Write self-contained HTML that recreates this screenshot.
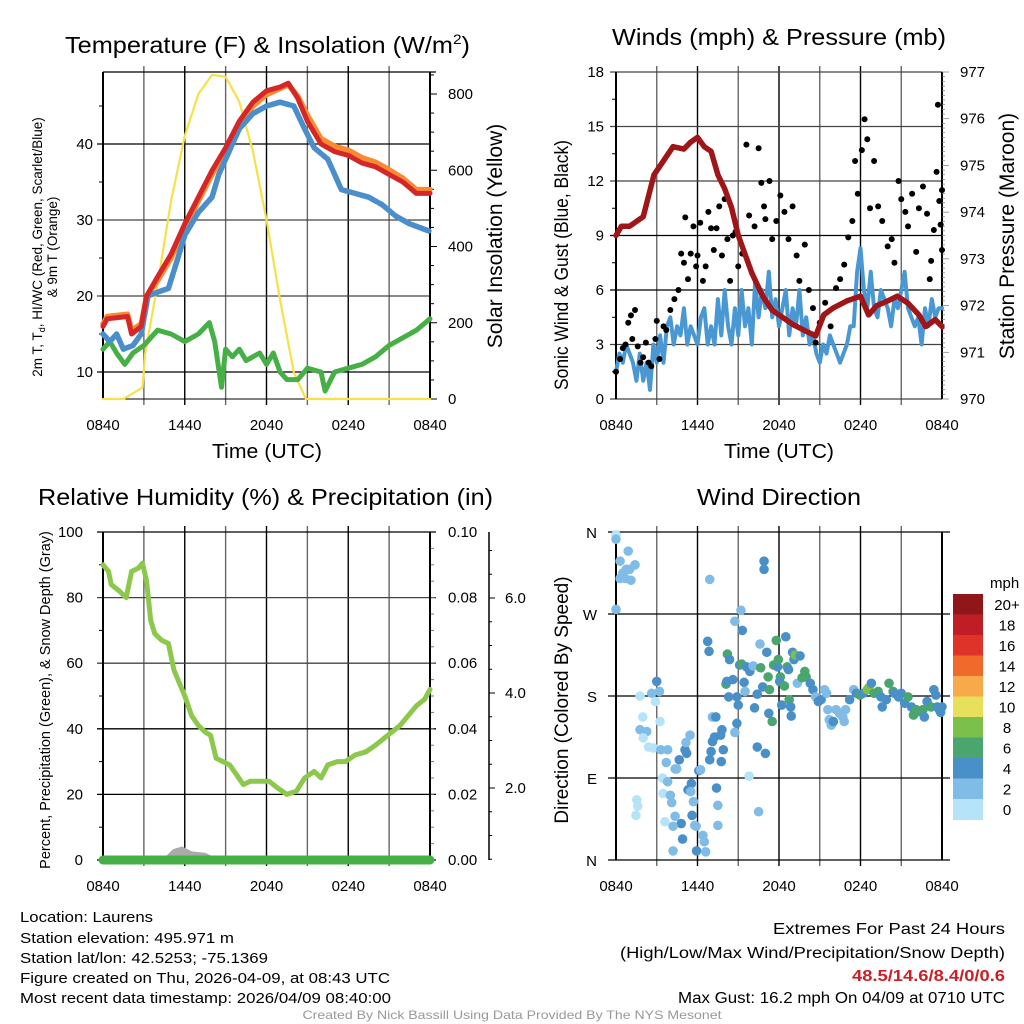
<!DOCTYPE html>
<html><head><meta charset="utf-8"><style>
html,body{margin:0;padding:0;background:#fff;}
svg{display:block;font-family:"Liberation Sans",sans-serif;}
</style></head><body>
<svg id="chart" width="1024" height="1024" viewBox="0 0 1024 1024" xmlns="http://www.w3.org/2000/svg">
<g id="texts" fill="#000">
<text x="65" y="53" font-size="23" textLength="405" lengthAdjust="spacingAndGlyphs">Temperature (F) &amp; Insolation (W/m<tspan dy="-9" font-size="14">2</tspan><tspan dy="9">)</tspan></text>
<text x="612" y="45" font-size="23" textLength="334" lengthAdjust="spacingAndGlyphs">Winds (mph) &amp; Pressure (mb)</text>
<text x="38" y="505" font-size="23" textLength="455" lengthAdjust="spacingAndGlyphs">Relative Humidity (%) &amp; Precipitation (in)</text>
<text x="697" y="505" font-size="23" textLength="164" lengthAdjust="spacingAndGlyphs">Wind Direction</text>
<text x="212" y="458" font-size="20" textLength="110" lengthAdjust="spacingAndGlyphs">Time (UTC)</text>
<text x="724" y="458" font-size="20" textLength="110" lengthAdjust="spacingAndGlyphs">Time (UTC)</text>
<text transform="translate(42,247) rotate(-90)" font-size="13.5" text-anchor="middle">2m T, T<tspan font-size="9" dy="3">d</tspan><tspan dy="-3">, HI/WC (Red, Green, Scarlet/Blue)</tspan></text>
<text transform="translate(57,247) rotate(-90)" font-size="13.5" text-anchor="middle">&amp; 9m T (Orange)</text>
<text transform="translate(502,236) rotate(-90)" font-size="21" text-anchor="middle">Solar Insolation (Yellow)</text>
<text transform="translate(568,265) rotate(-90)" font-size="19" text-anchor="middle" textLength="250" lengthAdjust="spacingAndGlyphs">Sonic Wind &amp; Gust (Blue, Black)</text>
<text transform="translate(1014,236) rotate(-90)" font-size="21" text-anchor="middle">Station Pressure (Maroon)</text>
<text transform="translate(50,700) rotate(-90)" font-size="14.5" text-anchor="middle">Percent, Precipitation (Green), &amp; Snow Depth (Gray)</text>
<text transform="translate(568,700) rotate(-90)" font-size="19" text-anchor="middle">Direction (Colored By Speed)</text>
<g font-size="14.5">
<text x="20" y="922" textLength="133" lengthAdjust="spacingAndGlyphs">Location: Laurens</text>
<text x="20" y="943" textLength="214" lengthAdjust="spacingAndGlyphs">Station elevation: 495.971 m</text>
<text x="20" y="963" textLength="248" lengthAdjust="spacingAndGlyphs">Station lat/lon: 42.5253; -75.1369</text>
<text x="20" y="983" textLength="370" lengthAdjust="spacingAndGlyphs">Figure created on Thu, 2026-04-09, at 08:43 UTC</text>
<text x="20" y="1003" textLength="371" lengthAdjust="spacingAndGlyphs">Most recent data timestamp: 2026/04/09 08:40:00</text>
</g>
<g font-size="15.5" text-anchor="end">
<text x="1005" y="934" textLength="232" lengthAdjust="spacingAndGlyphs">Extremes For Past 24 Hours</text>
<text x="1005" y="958" textLength="385" lengthAdjust="spacingAndGlyphs">(High/Low/Max Wind/Precipitation/Snow Depth)</text>
<text x="1005" y="981" textLength="153" lengthAdjust="spacingAndGlyphs" fill="#cc1f25" font-weight="bold">48.5/14.6/8.4/0/0.6</text>
<text x="1005" y="1003" textLength="327" lengthAdjust="spacingAndGlyphs">Max Gust: 16.2 mph On 04/09 at 0710 UTC</text>
</g>
<text x="512" y="1019" font-size="12" fill="#999" text-anchor="middle" textLength="419" lengthAdjust="spacingAndGlyphs">Created By Nick Bassill Using Data Provided By The NYS Mesonet</text>
</g>
</svg>
<script>
// ---------- DATA ----------
const timeTickLabels = ["0840","1440","2040","0240","0840"];
const tempTicks = [10,20,30,40];
const solarTicks = [0,200,400,600,800];
const windTicks = [0,3,6,9,12,15,18];
const pressureTicks = [970,971,972,973,974,975,976,977];
const rhTicks = [0,20,40,60,80,100];
const precipTickLabels = ["0.00","0.02","0.04","0.06","0.08","0.10"];
const snowTicks = [2,4,6];
const dirTickLabels = ["N","E","S","W","N"];
const speedBinLabels = ["0","2","4","6","8","10","12","14","16","18","20+"];
const speedBinColors = ["#b5e3f7","#80bce6","#4a90c8","#4aa56e","#7cc04c","#e8e05a","#f6aa4a","#f06a2c","#df3329","#bf1e26","#8f1619"];

const tempRed = [[0,16],[0.3,17],[1.8,17.3],[2.1,15],[2.8,16],[3.2,20],[4,22.5],[5,25.5],[6,29.5],[7,33],[8,36.5],[9,39.5],[10,43],[11,45.5],[12,47],[13,47.5],[13.6,48],[14.3,46],[15,43],[16,40],[17,39],[18,38.5],[19,37.5],[20,37],[21,36],[22,35],[23,33.5],[24,33.5]];
const tempOrange = [[0,16.3],[0.3,17.3],[1.8,17.6],[2.1,15.5],[2.8,16.3],[3.2,20],[4,22],[5,25],[6,29],[7,32.5],[8,36],[9,39],[10,42.5],[11,45],[12,46.5],[13,47.3],[13.6,47.8],[14.3,46.3],[15,43.8],[16,40.7],[17,39.7],[18,39.2],[19,38.2],[20,37.6],[21,36.6],[22,35.5],[23,34],[24,34]];
const tempBlue = [[0,15],[0.5,14],[1,15],[1.5,13],[2.2,13.5],[2.8,15],[3.3,20],[4,20.5],[4.8,21],[5.5,25],[6,28],[7,31],[8,33],[8.5,36],[9,38],[10,42],[11,44],[12,45],[13,45.5],[14,45],[14.8,42],[15.5,39.5],[16.5,38],[17.5,34],[18.5,33.5],[19.5,33],[20.5,32],[21.5,30.5],[22.5,29.5],[24,28.5]];
const tempGreen = [[0,13],[0.5,14],[1,12.5],[1.6,11],[2.2,12.5],[3,13.5],[3.5,14.5],[4,15.5],[5,15],[6,14],[7,15],[7.8,16.5],[8.2,14],[8.7,8],[9,13],[9.5,12],[10,13],[10.5,11.5],[11.5,12.5],[12,11],[12.5,12.5],[13,10],[13.5,9],[14.3,9],[15,10.5],[16,10],[16.3,7.5],[17,10],[18,10.5],[19,11],[20,12],[21,13.5],[22,14.5],[23,15.5],[24,17]];
const solar = [[0,0],[1.5,0],[2.9,30],[3.1,120],[4,300],[5,520],[6,690],[7,800],[8,850],[9,845],[10,780],[11,650],[12,470],[13,260],[14,70],[14.9,0],[24,0]];

const pressure = [[0,973.5],[0.4,973.7],[1,973.7],[1.5,973.8],[2,973.9],[2.8,974.8],[3.5,975.1],[4.2,975.4],[5,975.35],[5.5,975.5],[6,975.6],[6.5,975.4],[7,975.3],[7.5,974.8],[8,974.5],[8.5,974.1],[9,973.5],[9.5,973.1],[10,972.7],[10.8,972.2],[11.5,971.9],[12,971.8],[13,971.6],[14,971.45],[14.7,971.35],[15.3,971.8],[16,971.95],[17,972.1],[18,972.2],[18.6,971.8],[19.2,972.0],[20,972.1],[20.7,972.2],[21.5,972.05],[22.3,971.8],[22.8,971.55],[23.5,971.7],[24,971.55]];
const windSpeed = [1.5,2.5,2,3,2.5,2,1,2.5,1,2,0.5,3,
2,3.5,2,4,4.5,3,4,3.5,5,3,4,3.5,
3,4.5,5,3,4,3,5.5,3.5,6,4,3,5,
3.5,6,4,5,3,6.5,4.5,6,5,7,4.5,5.5,
4,5,6,3.5,5,4,6,3.5,4.5,3,3.5,2.5,
2,3,2.5,3.5,3,2.5,2,2.5,3,4,4,7,
8.3,6,5,7,5,4.5,6,5.5,5,4,5.5,5,
6,7,5,4.5,4,4.5,3,5,4,5.5,4.5,5,5];
const gusts = [[0,1.5],[0.3,2.2],[0.5,2.8],[0.7,3.0],[0.9,4.2],[1.1,4.6],[1.2,3.3],[1.4,4.9],[1.6,2.9],[1.8,2.0],[2.0,2.3],[2.2,3.1],[2.4,2.0],[2.6,1.8],[3.0,4.3],[2.9,3.3],[3.2,2.2],[3.5,4.0],[3.7,3.8],[4.0,4.9],[4.3,5.5],[4.6,6.0],[4.8,8.0],[5.0,7.5],[5.1,10.0],[5.3,6.6],[5.5,8.0],[5.7,9.5],[5.9,7.3],[6.0,7.9],[6.2,9.7],[6.4,6.5],[6.6,7.3],[6.8,10.3],[7.0,9.4],[7.2,8.2],[7.4,9.4],[7.6,10.6],[7.8,7.9],[8.0,11.0],[8.2,8.8],[8.4,6.5],[8.6,9.0],[8.8,9.2],[9.0,7.3],[9.3,8.0],[9.6,14.0],[9.8,10.1],[10.2,9.5],[10.5,13.8],[10.7,11.9],[10.9,10.6],[11.0,9.9],[11.3,12.0],[11.5,8.8],[11.8,9.8],[12.1,11.2],[12.4,10.3],[12.7,8.8],[13.0,10.6],[13.3,7.9],[13.5,6.5],[13.9,8.5],[14.2,6.0],[14.5,5.0],[14.7,3.1],[15.0,4.2],[15.4,5.3],[15.8,4.0],[16.2,6.1],[16.5,6.6],[16.8,7.4],[17.1,8.9],[17.4,9.8],[17.6,13.1],[17.8,11.3],[18.1,13.7],[18.3,15.4],[18.5,14.3],[18.7,10.5],[19.0,13.1],[19.3,10.6],[19.6,9.8],[20.0,8.4],[20.3,8.8],[20.5,7.5],[20.8,12.0],[21.0,11.0],[21.3,10.3],[21.5,9.5],[21.8,11.3],[22.1,8.1],[22.3,10.5],[22.6,11.7],[22.9,10.2],[23.1,6.6],[23.2,7.6],[23.4,9.3],[23.6,12.5],[23.7,16.2],[23.8,10.9],[24.0,8.2],[24.0,11.5],[23.9,9.6]];

const rh = [[0,90],[0.4,88],[0.6,84],[1.2,82],[1.7,80],[2.1,88],[2.6,89],[2.9,90.5],[3.2,85],[3.5,73],[3.8,69],[4.3,67],[4.8,66],[5.2,58],[5.6,54],[6.0,50],[6.5,44],[7.0,41],[7.5,39],[7.9,38],[8.3,31],[8.8,30],[9.3,29],[9.8,26],[10.3,23],[10.8,24],[11.5,24],[12.2,24],[12.8,22],[13.5,20],[14.2,21],[14.8,25],[15.5,27],[16.0,25],[16.5,29],[17.2,30],[17.8,30],[18.5,32],[19.3,33],[20.0,35],[20.6,37],[21.2,39],[21.8,41],[22.4,44],[23.0,47],[23.6,49],[24,52]];
const precip = [[0,0],[24,0]];
const snowDepth = [[4.5,0],[5.2,0.2],[5.8,0.25],[6.5,0.15],[7.5,0.12],[8.3,0]];

const windDir = [[0,357,1],[0,352,3],[0.3,328,3],[0.9,339,3],[0.5,315,3],[1.0,319,3],[1.4,324,3],[0.3,309,3],[0.7,309,3],[1.1,307,3],[0.75,319,3],[0,275,3],
[1.77,180,1],[1.97,157,1],[1.77,143,3],[2.26,141,3],[2.0,134,1],[2.4,124,1],[2.75,123,1],[1.53,66,1],[1.6,59,1],[1.47,49,1],[2.63,183,3],[2.9,174,1],[3.0,196,5],[3.2,185,3],[3.24,152,1],[3.3,121,3],[3.8,121,3],[3.7,107,3],[4.47,100,3],[4.35,100,3],[3.43,90,1],[3.8,86,3],[3.47,73,1],[4.0,71,3],[4.1,63,3],[3.6,42,1],[4.35,48,3],[4.8,40,5],[4.2,37,3],[4.9,23,5],[4.2,10,3],[4.66,110,5],[5.08,121,5],[5.2,117,5],[5.15,129,3],[5.45,137,3],[6.1,98,5],[6.23,99,3],[5.55,84,5],[5.3,77,5],[5.5,75,3],[5.7,64,3],[5.6,49,5],[5.9,37,3],[5.8,38,3],[6.4,27,3],[6.5,20,3],[5.93,10,5],[6.6,9,3],
[6.9,110,5],[7.0,119,5],[7.1,130,5],[7.25,135,5],[7.1,157,3],[7.35,157,5],[7.7,137,5],[7.8,143,5],[7.9,121,5],[7.75,108,5],[7.4,79,5],[7.5,60,3],[7.5,38,3],[6.75,240,5],[6.85,229,5],[6.9,308,3],
[8.1,193,7],[8.2,226,7],[8.36,220,5],[8.16,196,5],[8.6,198,5],[8.3,179,5],[8.9,179,5],[9.0,170,5],[8.9,150,5],[8.75,140,3],[8.75,262,3],[9.2,274,3],[9.3,252,5],[9.1,214,5],[9.25,215,7],[9.43,195,5],[9.5,185,3],[9.6,212,5],[9.85,207,5],[10.1,213,3],[10.4,182,5],[10.2,167,5],[10.6,237,3],[10.65,211,7],[10.8,190,5],[11.2,201,7],[11.3,187,7],[11.1,228,5],[11.25,161,5],[11.5,152,7],[10.9,328,5],[10.9,319,5],[10.4,124,5],[11.0,117,5],[9.8,92,1],[10.5,53,3],
[11.6,214,7],[11.8,241,7],[11.9,212,5],[11.95,220,7],[12.1,201,7],[12.05,196,5],[12.2,170,5],[12.4,191,7],[12.5,245,5],[12.6,212,7],[12.7,209,5],[12.75,176,7],[12.86,168,5],[12.9,158,5],[13.0,228,5],[13.1,220,5],[13.2,225,9],[13.55,224,5],[13.35,194,3],[13.7,200,7],[13.9,207,7],[14.0,201,7],[14.3,194,5],[14.5,187,5],[14.7,179,3],[14.9,174,5],
[15.1,176,5],[15.35,187,3],[15.5,183,3],[15.6,165,3],[15.7,154,3],[15.85,148,3],[16.0,152,5],[16.2,165,3],[16.45,161,3],[16.7,157,3],[16.8,152,3],[16.9,165,3],[17.2,176,5],[17.5,187,3],[17.7,183,5],[17.96,181,7],[18.2,183,5],[18.5,187,9],[18.6,189,9],[18.8,194,5],[19.0,183,7],[19.3,185,7],[19.5,179,5],[19.6,168,5],[19.9,176,5],[20.1,194,7],[20.4,185,7],[20.5,183,5],[20.8,179,5],[21.0,183,5],[21.25,172,5],[21.5,179,7],[21.75,168,5],[21.9,159,7],[22.1,165,7],[22.3,163,7],[22.6,165,7],[22.7,157,5],[22.9,174,5],[23.2,168,7],[23.4,187,5],[23.55,181,5],[23.8,165,5],[23.9,162,5],[24,168,5],[23.65,168,5]];

// ---------- RENDER ----------
const NS="http://www.w3.org/2000/svg";
const svg=document.getElementById('chart');
function el(tag,attrs,parent){const e=document.createElementNS(NS,tag);for(const k in attrs)e.setAttribute(k,attrs[k]);(parent||svg).appendChild(e);return e;}
function lin(d0,d1,r0,r1){return v=>r0+(v-d0)*(r1-r0)/(d1-d0);}

const L=103,R=430,L2=616,R2=942;
const xT=lin(0,24,L,R), xW=lin(0,24,L2,R2);
const yTemp=lin(10,40,372,144), ySolar=lin(0,800,399,94);
const yWind=lin(0,18,399,72), yPres=lin(970,977,399,72);
const yRH=lin(0,100,860,532), ySnow=lin(2,4,788,693);
const yDir=lin(0,360,860,532);

function frame(x0,x1,y0,y1,xs,name){
  const g=el('g',{});
  
  
  for(let h=3;h<24;h+=3){const x=xs(h);const l=el('line',{x1:x,x2:x,y1:y0-6,y2:y1+6,stroke:(h%6==0?'#000':'#666'),'stroke-width':1.4},g);
    }
  return g;
}
function hline(y,x0,x1,g,c){const l=el('line',{x1:x0,x2:x1,y1:y,y2:y,stroke:c||'#000','stroke-width':1.3},g);
  }
function xLabels(xs,y,g){timeTickLabels.forEach((s,i)=>{const t=el('text',{x:xs(i*6),y:y,'font-size':15,'text-anchor':'middle'},g);t.textContent=s;
  });}
function path(pts,xs,ys,attrs,name){const d=pts.map((p,i)=>(i?'L':'M')+xs(p[0]).toFixed(1)+','+ys(p[1]).toFixed(1)).join('');
  const p=el('path',Object.assign({d:d,fill:'none','stroke-linejoin':'round','stroke-linecap':'round'},attrs));
  return p;}

// ===== Panel 1 =====
const g1=frame(L,R,72,399,xT,'temperature');
tempTicks.forEach(v=>hline(yTemp(v),L-6,R,g1,v==20||v==30?'#444':'#000'));
hline(72,L,R+6,g1);
el('line',{x1:L,x2:R,y1:399,y2:399,stroke:'#000','stroke-width':1},g1);
el('line',{x1:L,x2:L,y1:72,y2:399,stroke:'#000','stroke-width':2},g1);
el('line',{x1:R,x2:R,y1:72,y2:399,stroke:'#000','stroke-width':2},g1);
tempTicks.forEach(v=>{const t=el('text',{x:L-10,y:yTemp(v)+5,'font-size':15,'text-anchor':'end'},g1);t.textContent=v;
  });
[15,25,35,45].forEach(v=>el('line',{x1:L,x2:L-4,y1:yTemp(v),y2:yTemp(v),stroke:'#000'},g1));
for(let v=0;v<=850;v+=50)el('line',{x1:R,x2:R+(v%200==0?7:4),y1:ySolar(v),y2:ySolar(v),stroke:'#000'},g1);
solarTicks.forEach(v=>{const t=el('text',{x:R+18,y:ySolar(v)+5,'font-size':15},g1);t.textContent=v;
  });
xLabels(xT,430,g1);
path(solar,xT,ySolar,{stroke:'#f7e04a','stroke-width':2.2},'solar-insolation-line');
path(tempGreen,xT,yTemp,{stroke:'#46b046','stroke-width':5},'dewpoint-line');
path(tempOrange,xT,yTemp,{stroke:'#f68b32','stroke-width':5.5},'temp-9m-line');
path(tempBlue,xT,yTemp,{stroke:'#4a8fcb','stroke-width':5.5,'stroke-dasharray':'18 2'},'wind-chill-line');
path(tempRed,xT,yTemp,{stroke:'#d62728','stroke-width':5},'temp-2m-line');

// ===== Panel 2 =====
const g2=frame(L2,R2,72,399,xW,'wind');
windTicks.forEach(v=>hline(yWind(v),L2-6,R2,g2,(v==6||v==9)?'#000':'#444'));
el('line',{x1:L2,x2:L2,y1:72,y2:399,stroke:'#000','stroke-width':2},g2);
el('line',{x1:R2,x2:R2,y1:72,y2:399,stroke:'#000','stroke-width':2},g2);
for(let v=1.5;v<18;v+=3)el('line',{x1:L2,x2:L2-4,y1:yWind(v),y2:yWind(v),stroke:'#000'},g2);
windTicks.forEach(v=>{const t=el('text',{x:L2-12,y:yWind(v)+5,'font-size':15,'text-anchor':'end'},g2);t.textContent=v;
  });
for(let v=970;v<=977.001;v+=0.1)el('line',{x1:R2,x2:R2+(Math.abs(v-Math.round(v))<0.01?7:3),y1:yPres(v),y2:yPres(v),stroke:'#777','stroke-width':0.7},g2);
pressureTicks.forEach(v=>{const t=el('text',{x:R2+18,y:yPres(v)+5,'font-size':15},g2);t.textContent=v;
  });
xLabels(xW,430,g2);
const windPts=windSpeed.map((v,i)=>[i*0.25,v]);
path(windPts,xW,yWind,{stroke:'#4a98d3','stroke-width':4},'sonic-wind-line');
gusts.forEach(p=>{const c=el('circle',{cx:xW(p[0]),cy:yWind(p[1]),r:3,fill:'#000'});
  });
path(pressure,xW,yPres,{stroke:'#a01618','stroke-width':5.5},'pressure-line');

// ===== Panel 3 =====
const g3=frame(L,R,532,860,xT,'humidity');
rhTicks.forEach(v=>hline(yRH(v),L-6,R+6,g3,(v==60||v==80)?'#444':'#000'));
[10,30,50,70,90].forEach(v=>el('line',{x1:L,x2:L-4,y1:yRH(v),y2:yRH(v),stroke:'#000'},g3));
for(let v=5;v<100;v+=5)el('line',{x1:R,x2:R+4,y1:yRH(v),y2:yRH(v),stroke:'#777'},g3);
el('line',{x1:L,x2:L,y1:532,y2:860,stroke:'#000','stroke-width':2},g3);
el('line',{x1:R,x2:R,y1:532,y2:860,stroke:'#000','stroke-width':2},g3);
rhTicks.forEach(v=>{const t=el('text',{x:L-20,y:yRH(v)+5,'font-size':15,'text-anchor':'end'},g3);t.textContent=v;
  });
precipTickLabels.forEach((s,i)=>{const t=el('text',{x:R+18,y:yRH(i*20)+5,'font-size':15},g3);t.textContent=s;
  });
el('line',{x1:489,x2:489,y1:532,y2:860,stroke:'#000','stroke-width':1.5},g3);
for(let v=0.5;v<=7;v+=0.5){const y=ySnow(v);if(y>=532&&y<=860)el('line',{x1:489,x2:489+(v%2==0?6:3),y1:y,y2:y,stroke:'#000'},g3);}
snowTicks.forEach(v=>{const t=el('text',{x:505,y:ySnow(v)+5,'font-size':15},g3);t.textContent=v.toFixed(1);
  });
xLabels(xT,891,g3);
const snowBase=ySnow(0);
const snowD='M'+snowDepth.map(p=>xT(p[0]).toFixed(1)+','+(860-(snowBase-ySnow(p[1]))).toFixed(1)).join('L')+'Z';
const sp=el('path',{d:snowD,fill:'#aaa',stroke:'#aaa','stroke-width':3});

path(precip,xT,v=>yRH(v*1000),{stroke:'#46b046','stroke-width':9},'precipitation-line');
path(rh,xT,yRH,{stroke:'#8cc84b','stroke-width':5},'relative-humidity-line');

// ===== Panel 4 =====
const g4=frame(L2,R2,532,860,xW,'direction');
[0,90,180,270,360].forEach(v=>hline(yDir(v),L2-8,R2+8,g4,'#000'));
el('line',{x1:L2,x2:L2,y1:532,y2:860,stroke:'#000','stroke-width':2},g4);
el('line',{x1:R2,x2:R2,y1:532,y2:860,stroke:'#000','stroke-width':2},g4);
dirTickLabels.forEach((s,i)=>{const t=el('text',{x:597,y:yDir(i*90)+6,'font-size':15,'text-anchor':'end'},g4);t.textContent=s;
  });
xLabels(xW,891,g4);
function speedColor(s){let i=Math.floor(s/2);if(i>10)i=10;if(i<0)i=0;return speedBinColors[i];}
windDir.forEach(p=>{const c=el('circle',{cx:xW(p[0]),cy:yDir(p[1]),r:4.8,fill:speedColor(p[2])});
  });
// colorbar
const cb=el('g',{});


const cbTop=594,cbH=20.5;
speedBinLabels.forEach((s,i)=>{const k=10-i;const y=cbTop+i*cbH;
  const r=el('rect',{x:953,y:y,width:30,height:cbH+0.5,fill:speedBinColors[k]},cb);
  
  const t=el('text',{x:1007,y:y+16,'font-size':15,'text-anchor':'middle'},cb);t.textContent=speedBinLabels[k];
  });
const mph=el('text',{x:990,y:588,'font-size':15},cb);mph.textContent='mph';

</script>
</body></html>
